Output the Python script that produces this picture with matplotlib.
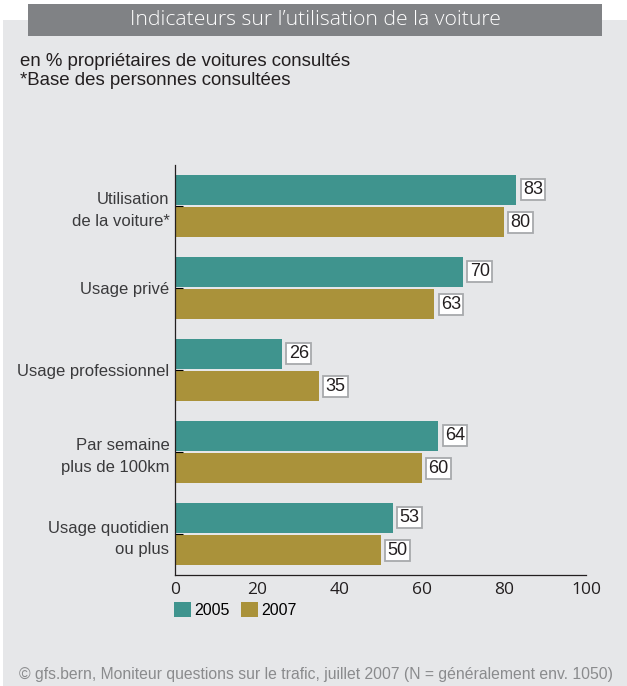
import matplotlib
matplotlib.use("Agg")
import matplotlib.pyplot as plt
from matplotlib.patches import Rectangle

categories = ["Utilisation\nde la voiture*", "Usage privé", "Usage professionnel",
              "Par semaine\nplus de 100km", "Usage quotidien\nou plus"]
v2005 = [83, 70, 26, 64, 53]
v2007 = [80, 63, 35, 60, 50]
series_labels = ["2005", "2007"]
xticks = [0, 20, 40, 60, 80, 100]

title = "Indicateurs sur l\u2019utilisation de la voiture"
subtitle = "en % propriétaires de voitures consultés\n*Base des personnes consultées"
footer = "© gfs.bern, Moniteur questions sur le trafic, juillet 2007 (N = généralement env. 1050)"

teal = "#3f948e"
gold = "#aa923a"
bg = "#e6e7e9"

W, H = 627, 686
fig = plt.figure(figsize=(W / 100, H / 100), dpi=100)
fig.patch.set_facecolor("white")
plt.rcParams['font.family'] = ['Liberation Sans', 'DejaVu Sans']

# background panel
fig.patches.append(Rectangle((3 / W, 0), 1 - 3 / W, 1 - 20 / H, transform=fig.transFigure,
                             facecolor=bg, edgecolor="none", zorder=0))
# title bar
fig.patches.append(Rectangle((28 / W, 1 - 36 / H), (602 - 28) / W, 32 / H, transform=fig.transFigure,
                             facecolor="#808285", edgecolor="none", zorder=1))
fig.text(315 / W, 1 - 20 / H, title, color="white", fontsize=15.2, ha="center", va="center",
         family=["Open Sans", "DejaVu Sans"], fontweight="light", zorder=2)
fig.text(20 / W, 1 - 53 / H, subtitle, color="#231f20", fontsize=13.4, ha="left", va="top",
         linespacing=1.15)
fig.text(316 / W, 1 - 674 / H, footer, color="#8a8b8d", fontsize=11.3, ha="center", va="center")

ax = fig.add_axes([175 / W, 1 - 575 / H, (586 - 175) / W, (575 - 165) / H])
ax.set_zorder(5)
ax.set_facecolor("none")
y = list(range(len(categories)))
h = 0.366
off = 0.201
ax.barh([i - off for i in y], v2005, height=h, color=teal, label=series_labels[0])
ax.barh([i + off for i in y], v2007, height=h, color=gold, label=series_labels[1])
for i in y:
    for val, yy in ((v2005[i], i - off), (v2007[i], i + off)):
        ax.annotate(str(val), (val, yy), xytext=(5, 0), textcoords="offset points",
                    ha="left", va="center", fontsize=13, color="#231f20",
                    bbox=dict(boxstyle="square,pad=0.13", facecolor="white",
                              edgecolor="#a7a9ac", linewidth=1.3))
ax.set_xlim(0, 100)
ax.set_ylim(4.5, -0.5)
ax.set_yticks(y)
ax.set_yticklabels(categories, fontsize=12, color="#3a3a3c", linespacing=1.55)
ax.set_xticks(xticks)
ax.set_xticklabels([str(t) for t in xticks], fontsize=12.5, color="#231f20",
                   family=["Open Sans", "DejaVu Sans"])
ax.tick_params(axis="y", direction="in", length=6, width=0.8, pad=4)
ax.tick_params(axis="x", length=0, pad=5)
for s in ("top", "right"):
    ax.spines[s].set_visible(False)
ax.spines["left"].set_color("#231f20")
ax.spines["bottom"].set_color("#231f20")
ax.spines["left"].set_linewidth(0.9)
ax.spines["bottom"].set_linewidth(0.9)

leg = fig.legend(loc="upper left", bbox_to_anchor=(174 / W, 1 - 602 / H), ncol=2, frameon=False,
                 prop=dict(size=11.5), handlelength=1.05, handleheight=1.05,
                 handletextpad=0.2, columnspacing=0.75, borderaxespad=0, borderpad=0)

fig.savefig("out.png", dpi=100, facecolor=fig.get_facecolor())
